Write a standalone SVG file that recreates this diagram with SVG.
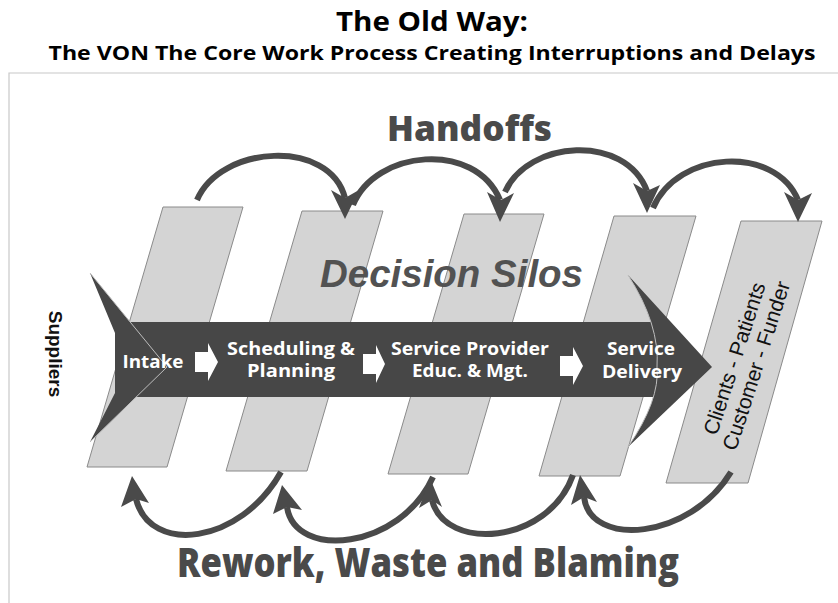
<svg xmlns="http://www.w3.org/2000/svg" width="838" height="603" viewBox="0 0 838 603">
  <style>
    .silo { fill: #d4d4d4; stroke: #8a8a8a; stroke-width: 1; }
    .dark { fill: #474747; }
    .conn { fill: none; stroke: #4a4a4a; stroke-width: 6; stroke-linecap: butt; }
    .head { fill: #4a4a4a; }
    .step { font-family: "Open Sans", "DejaVu Sans", sans-serif; font-weight: 700; font-size: 17px; fill: #ffffff; text-anchor: middle; }
    .warrow { fill: #ffffff; }
    .big { font-family: "Open Sans", "DejaVu Sans", sans-serif; font-weight: 800; fill: #4a4a4a; }
    .title { font-family: "Open Sans", "DejaVu Sans", sans-serif; font-weight: 700; fill: #000; text-anchor: middle; }
    .side { font-family: "Liberation Sans", Arial, sans-serif; fill: #111; }
  </style>

  <rect x="0" y="0" width="838" height="603" fill="#ffffff"/>

  <g id="title">
    <text class="title" x="432" y="31" font-size="26" textLength="192" lengthAdjust="spacingAndGlyphs">The Old Way:</text>
    <text class="title" x="432" y="60" font-size="20" textLength="767" lengthAdjust="spacingAndGlyphs">The VON The Core Work Process Creating Interruptions and Delays</text>
  </g>

  <g id="frame">
    <path d="M838,73 H9 V603" fill="none" stroke="#c8c8c8" stroke-width="1.2"/>
  </g>

  <g id="silos">
    <polygon class="silo" points="163,207 243,207 167,467 87,467"/>
    <polygon class="silo" points="302,211 383,211 307,471 226,471"/>
    <polygon class="silo" points="464,214 544,214 468,474 388,474"/>
    <polygon class="silo" points="614,216 696,216 620,476 539,476"/>
    <polygon class="silo" points="741,221 822,221 748,483 666,483"/>
  </g>

  <g id="decision-silos">
    <text x="320" y="287" font-family="Liberation Sans, Arial, sans-serif" font-weight="700" font-style="italic" font-size="38" fill="#525252" textLength="263" lengthAdjust="spacingAndGlyphs">Decision Silos</text>
  </g>

  <g id="process-arrow">
    <polygon class="dark" points="90,273 115,333 115,393 90,442 167,367"/>
    <rect class="dark" x="128" y="322" width="530" height="75"/>
    <path class="dark" d="M628,275 L712,367 L628,447 Q660,400 657,367 Q660,325 628,275 Z"/>
    <polyline points="90,273 167,367 90,442" fill="none" stroke="#bdbdbd" stroke-width="1"/>
    <path d="M628,275 Q660,325 657,367 Q660,400 628,447" fill="none" stroke="#bdbdbd" stroke-width="1"/>
  </g>

  <g id="intake">
    <text class="step" x="153" y="368" textLength="61" lengthAdjust="spacingAndGlyphs">Intake</text>
  </g>
  <g id="scheduling">
    <text class="step" x="291" y="355" textLength="128" lengthAdjust="spacingAndGlyphs">Scheduling &amp;</text>
    <text class="step" x="291" y="377" textLength="88" lengthAdjust="spacingAndGlyphs">Planning</text>
  </g>
  <g id="service-provider">
    <text class="step" x="470" y="355" textLength="158" lengthAdjust="spacingAndGlyphs">Service Provider</text>
    <text class="step" x="470" y="377" textLength="116" lengthAdjust="spacingAndGlyphs">Educ. &amp; Mgt.</text>
  </g>
  <g id="service-delivery">
    <text class="step" x="641" y="355" textLength="68" lengthAdjust="spacingAndGlyphs">Service</text>
    <text class="step" x="642" y="378" textLength="80" lengthAdjust="spacingAndGlyphs">Delivery</text>
  </g>

  <g id="step-arrows">
    <polygon class="warrow" points="195,352 208,352 208,343 218,362 208,381 208,372 195,372"/>
    <polygon class="warrow" points="363,354 376,354 376,345 385,364 376,383 376,374 363,374"/>
    <polygon class="warrow" points="560,356 573,356 573,347 583,366 573,385 573,376 560,376"/>
  </g>

  <g id="suppliers">
    <text class="side" transform="translate(49,354) rotate(90)" font-size="19" font-weight="700" text-anchor="middle">Suppliers</text>
  </g>

  <g id="clients">
    <g transform="translate(745,362) rotate(-72)">
      <text class="side" x="0" y="-4" font-size="21" text-anchor="middle">Clients - Patients</text>
      <text class="side" x="0" y="19" font-size="21" text-anchor="middle">Customer - Funder</text>
    </g>
  </g>

  <g id="handoffs-label">
    <text class="big" x="387" y="141" font-size="36" textLength="165" lengthAdjust="spacingAndGlyphs">Handoffs</text>
  </g>

  <g id="rework-label">
    <text class="big" x="177" y="577" font-size="41" textLength="502" lengthAdjust="spacingAndGlyphs">Rework, Waste and Blaming</text>
  </g>

  <g id="connectors">
    <path class="conn" d="M197,200 C220,145 330,138 345,198"/>
    <polygon class="head" points="331,190 345,219 359,190 345,198"/>
    <path class="conn" d="M353,205 C375,150 475,140 500,200"/>
    <polygon class="head" points="487,192 500,222 514,193 501,200"/>
    <path class="conn" d="M505,192 C528,140 625,133 647,191"/>
    <polygon class="head" points="633,183 647,213 660,185 647,191"/>
    <path class="conn" d="M653,208 C678,150 775,145 798,200"/>
    <polygon class="head" points="784,192 798,222 812,193 798,200"/>

    <path class="conn" d="M281,472 C240,545 150,555 136,499"/>
    <polygon class="head" points="121,507 132,476 149,503 136,499"/>
    <path class="conn" d="M433,477 C400,550 295,560 287,507"/>
    <polygon class="head" points="273,514 282,485 302,510 287,507"/>
    <path class="conn" d="M573,475 C548,545 445,552 432,500"/>
    <polygon class="head" points="419,508 430,478 442,507 432,500"/>
    <path class="conn" d="M731,472 C690,540 590,548 584,497"/>
    <polygon class="head" points="571,505 580,475 597,502 584,497"/>
  </g>
</svg>
